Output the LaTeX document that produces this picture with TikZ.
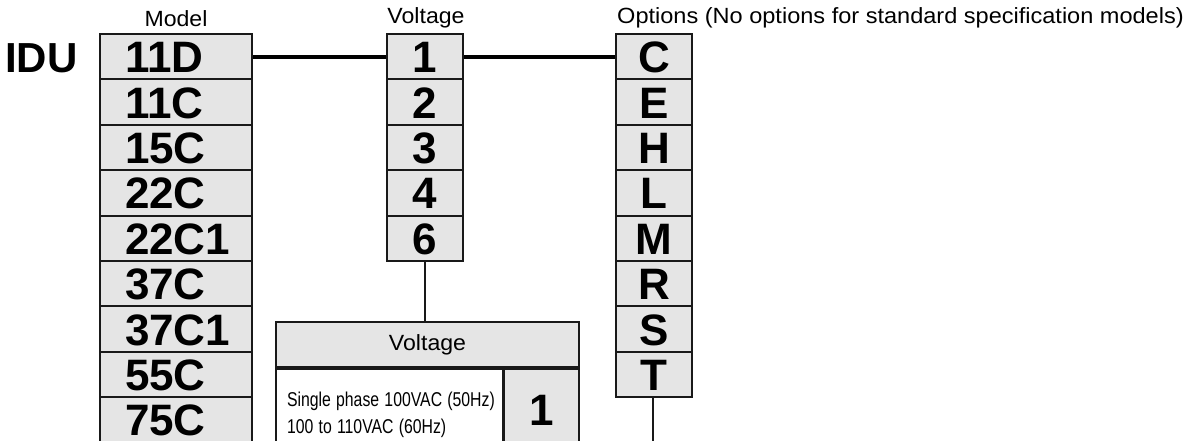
\documentclass[tikz,border=0pt]{standalone}
\usepackage{fontspec}
\setmainfont{Liberation Sans}
\usepackage{graphicx}
\newcommand\cellfont{\fontsize{44}{44}\selectfont\bfseries}
\newcommand\idufont{\fontsize{42}{42}\selectfont\bfseries}
\newcommand\labfont{\fontsize{22}{26}\selectfont}
\newcommand\smallfont{\fontsize{20}{27.7}\selectfont}
\newcommand\wide[2]{\scalebox{#1}[1]{#2}}
\begin{document}
\begin{tikzpicture}[x=1pt,y=-1pt,
  cellbase/.style={draw=black!90, line width=2pt, fill=black!10, inner sep=0pt,
    minimum height=45.4pt, text height=32pt, text depth=0pt, font=\cellfont},
  mcell/.style={cellbase, text width=102pt, align=left, inner xsep=25pt},
  ncell/.style={cellbase, minimum width=76pt},
  conn/.style={line width=3.8pt, draw=black},
  link/.style={line width=2pt, draw=black!90},
  lab/.style={inner sep=0pt, font=\labfont},
  tbl/.style={draw=black!90, line width=2pt, inner sep=0pt}
]
\useasboundingbox (0,0) rectangle (1188,441);

% labels
\node[lab, anchor=base] (lm) at (176,27) {\wide{1.05}{Model}};
\node[lab, anchor=base] (lv) at (426,24) {\wide{1.05}{Voltage}};
\node[lab, anchor=base west] (lo) at (617,24) {\wide{1.07}{Options (No options for standard specification models)}};
\node[inner sep=0pt, anchor=base west, font=\idufont] (idu) at (5,73) {IDU};

\coordinate (oend) at (653,446);

% model column
\foreach \t [count=\i] in {11D,11C,15C,22C,22C1,37C,37C1,55C,75C}
  \node[mcell] (m\i) at (176,{34+45.4*(\i-0.5)}) {\t};

% voltage column
\foreach \t [count=\i] in {1,2,3,4,6}
  \node[ncell] (v\i) at (425,{34+45.4*(\i-0.5)}) {\t};

% options column
\foreach \t [count=\i] in {C,E,H,L,M,R,S,T}
  \node[ncell] (o\i) at (654,{34+45.4*(\i-0.5)}) {\t};

% voltage table
\node[tbl, fill=black!10, minimum width=303pt, minimum height=45.4pt, font=\labfont]
  (vt) at (427.5,344.7) {\wide{1.05}{Voltage}};
\node[tbl, fill=white, anchor=north west, minimum height=91pt,
  text width=205pt, align=left, inner xsep=11pt, font=\smallfont]
  (vb) at (vt.south west) {\wide{0.79}{Single phase 100VAC (50Hz)}\\\wide{0.79}{100 to 110VAC (60Hz)}};
\node[tbl, fill=black!10, anchor=north east, minimum width=75.5pt, minimum height=80.4pt,
  text height=32pt, text depth=0pt, font=\cellfont]
  (vn) at (vt.south east) {1};

\draw[conn] (m1.east) -- (v1.west);
\draw[conn] (v1.east) -- (o1.west);
\draw[link] (v5.south) -- (v5.south |- vt.north);
\draw[link] (o8.south -| oend) -- (oend);
\end{tikzpicture}
\end{document}
